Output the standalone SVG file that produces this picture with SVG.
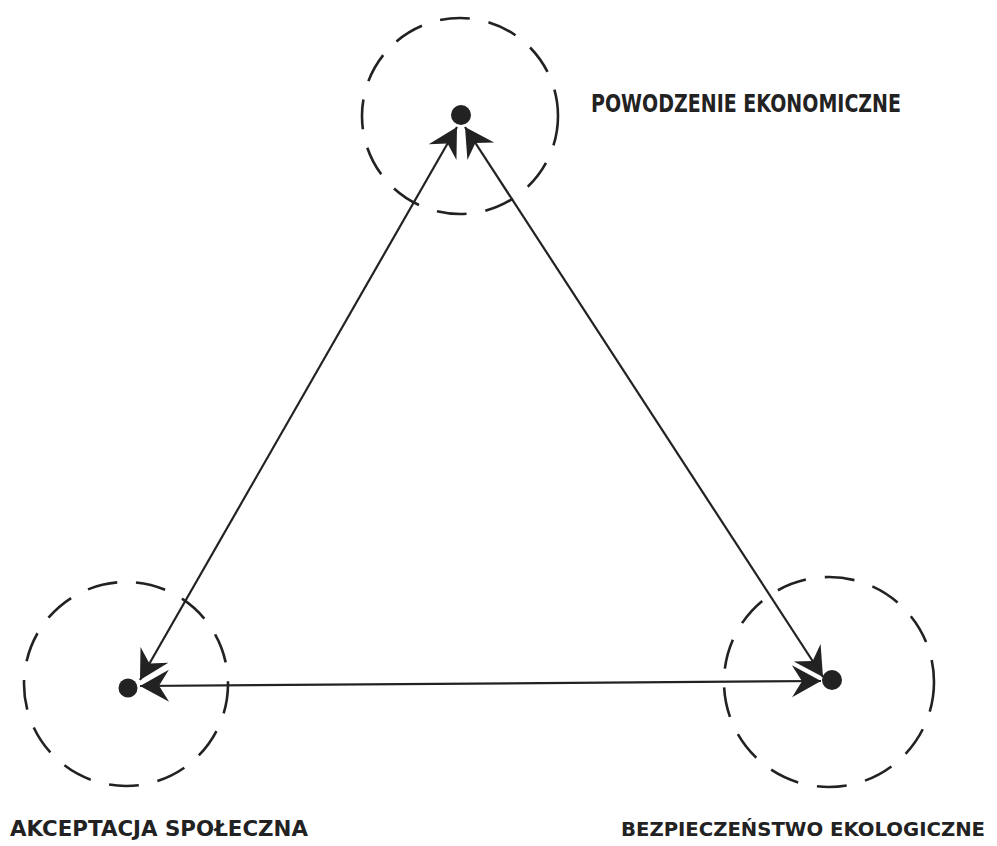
<svg xmlns="http://www.w3.org/2000/svg" width="997" height="846" viewBox="0 0 997 846">
<style>
.ring{fill:none;stroke:#222;stroke-width:2.6;stroke-dasharray:30 19}
.dot{fill:#222}
.link{stroke:#222;stroke-width:2.2;fill:none;marker-start:url(#ah);marker-end:url(#ah)}
.lbl{font-family:"DejaVu Sans","Liberation Sans",sans-serif;font-weight:bold;fill:#222}
</style>
<defs>
<marker id="ah" markerUnits="userSpaceOnUse" markerWidth="44" markerHeight="44" viewBox="-34 -22 38 44" refX="0" refY="0" orient="auto-start-reverse">
<path d="M0,0 L-29,-16 L-19,0 L-29,16 Z" fill="#222"/>
</marker>
</defs>
<g id="connectors">
<line class="link" x1="140" y1="680" x2="457" y2="127"/>
<line class="link" x1="465" y1="127" x2="823" y2="677"/>
<line class="link" x1="140" y1="686" x2="821" y2="681"/>
</g>
<g id="node-economic">
<circle class="ring" cx="460" cy="116" r="98"/>
<circle class="dot" cx="461" cy="115" r="10"/>
<text class="lbl" x="591" y="112" font-size="25" textLength="310" lengthAdjust="spacingAndGlyphs">POWODZENIE EKONOMICZNE</text>
</g>
<g id="node-social">
<circle class="ring" cx="126" cy="684" r="102"/>
<circle class="dot" cx="128" cy="688" r="9.5"/>
<text class="lbl" x="10" y="836" font-size="20.5" textLength="298" lengthAdjust="spacingAndGlyphs">AKCEPTACJA SPOŁECZNA</text>
</g>
<g id="node-ecological">
<circle class="ring" cx="829" cy="682" r="105"/>
<circle class="dot" cx="832" cy="680" r="10"/>
<text class="lbl" x="621" y="836" font-size="20" textLength="364" lengthAdjust="spacingAndGlyphs">BEZPIECZEŃSTWO EKOLOGICZNE</text>
</g>
</svg>
